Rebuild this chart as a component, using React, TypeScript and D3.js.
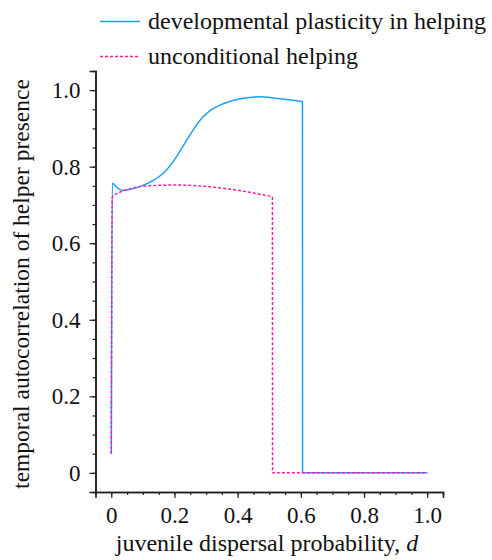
import React, { useEffect, useRef } from "react";
import * as d3 from "d3";

// developmental plasticity in helping (solid blue)
const plasticD = [0, 0.003, 0.02, 0.037, 0.06, 0.09, 0.121, 0.15, 0.173, 0.195, 0.231, 0.26, 0.289, 0.315, 0.342, 0.37, 0.405, 0.44, 0.468, 0.52, 0.56, 0.605, 0.6055, 0.7, 0.8, 0.9, 1.0];
const plasticV = [0.05, 0.757, 0.744, 0.738, 0.741, 0.748, 0.759, 0.773, 0.79, 0.812, 0.859, 0.897, 0.929, 0.948, 0.96, 0.969, 0.977, 0.981, 0.983, 0.979, 0.975, 0.97, 0, 0, 0, 0, 0];

// unconditional helping (dashed pink)
const uncondD = [0, 0.003, 0.026, 0.06, 0.09, 0.14, 0.205, 0.27, 0.34, 0.41, 0.47, 0.51, 0.5105, 0.6, 0.8, 1.0];
const uncondV = [0.05, 0.72, 0.733, 0.742, 0.748, 0.751, 0.752, 0.75, 0.745, 0.737, 0.728, 0.72, 0, 0, 0, 0];

const majorTicks = [0, 0.2, 0.4, 0.6, 0.8, 1.0];
const tickLabels = ["0", "0.2", "0.4", "0.6", "0.8", "1.0"];
const minorTicks = d3.range(0, 21).map(i => i * 0.05);

const seriesNames = ["developmental plasticity in helping", "unconditional helping"];

const BLUE = "#1ba0f2";
const PINK = "#ff1aa3";
const FONT = "Liberation Serif, Times New Roman, DejaVu Serif, serif";

export default function App() {
  const ref = useRef<SVGSVGElement>(null);

  useEffect(() => {
    const svg = d3.select(ref.current);
    svg.selectAll("*").remove();

    const x = d3.scaleLinear().domain([-0.05, 1.05]).range([95.5, 443]);
    const y = d3.scaleLinear().domain([-0.05, 1.05]).range([492, 71]);

    const g = svg.append("g").attr("font-family", FONT);

    // minor ticks
    const xMinor = g.append("g")
      .attr("transform", "translate(0,492)")
      .call(d3.axisBottom(x).tickValues(minorTicks).tickSize(3).tickFormat(() => ""));
    const yMinor = g.append("g")
      .attr("transform", "translate(95.5,0)")
      .call(d3.axisLeft(y).tickValues(minorTicks).tickSize(3).tickFormat(() => ""));

    // major ticks and labels
    const xAxis = g.append("g")
      .attr("transform", "translate(0,492)")
      .call(d3.axisBottom(x).tickValues(majorTicks).tickSize(6).tickPadding(9)
        .tickFormat((d, i) => tickLabels[i]));
    const yAxis = g.append("g")
      .attr("transform", "translate(95.5,0)")
      .call(d3.axisLeft(y).tickValues(majorTicks).tickSize(6).tickPadding(9)
        .tickFormat((d, i) => tickLabels[i]));

    [xMinor, yMinor, xAxis, yAxis].forEach(a => {
      a.attr("font-family", FONT).attr("font-size", 23);
      a.selectAll("path").attr("stroke", "#222").attr("stroke-width", 1.6);
      a.selectAll("line").attr("stroke", "#222").attr("stroke-width", 1.2);
      a.selectAll("text").attr("fill", "#111");
    });

    const plastic = plasticD.map((d, i) => [d, plasticV[i]] as [number, number]);
    const uncond = uncondD.map((d, i) => [d, uncondV[i]] as [number, number]);

    const line = d3.line<[number, number]>()
      .x(d => x(d[0]))
      .y(d => y(d[1]))
      .curve(d3.curveMonotoneX);

    g.append("path")
      .datum(plastic)
      .attr("d", line)
      .attr("fill", "none")
      .attr("stroke", BLUE)
      .attr("stroke-width", 1.5);

    g.append("path")
      .datum(uncond)
      .attr("d", line)
      .attr("fill", "none")
      .attr("stroke", PINK)
      .attr("stroke-width", 1.5)
      .attr("stroke-dasharray", "3,2");

    // legend
    const legend = g.append("g");
    [BLUE, PINK].forEach((c, i) => {
      const ly = 21.5 + i * 35;
      legend.append("line")
        .attr("x1", 100).attr("x2", 140)
        .attr("y1", ly).attr("y2", ly)
        .attr("stroke", c)
        .attr("stroke-width", 1.5)
        .attr("stroke-dasharray", i === 1 ? "3,2" : null);
      legend.append("text")
        .attr("x", 148)
        .attr("y", ly + 7)
        .attr("font-size", 24)
        .attr("fill", "#111")
        .text(seriesNames[i]);
    });

    // axis titles
    const xt = g.append("text")
      .attr("x", 267)
      .attr("y", 551)
      .attr("text-anchor", "middle")
      .attr("font-size", 24)
      .attr("fill", "#111");
    xt.append("tspan").text("juvenile dispersal probability, ");
    xt.append("tspan").attr("font-style", "italic").text("d");

    g.append("text")
      .attr("transform", "translate(29,284) rotate(-90)")
      .attr("text-anchor", "middle")
      .attr("font-size", 23.5)
      .attr("fill", "#111")
      .text("temporal autocorrelation of helper presence");
  }, []);

  return (
    <div style={{ position: "absolute", left: 0, top: 0 }}>
      <svg ref={ref} width={492} height={560} style={{ display: "block", background: "#fff" }} />
    </div>
  );
}
